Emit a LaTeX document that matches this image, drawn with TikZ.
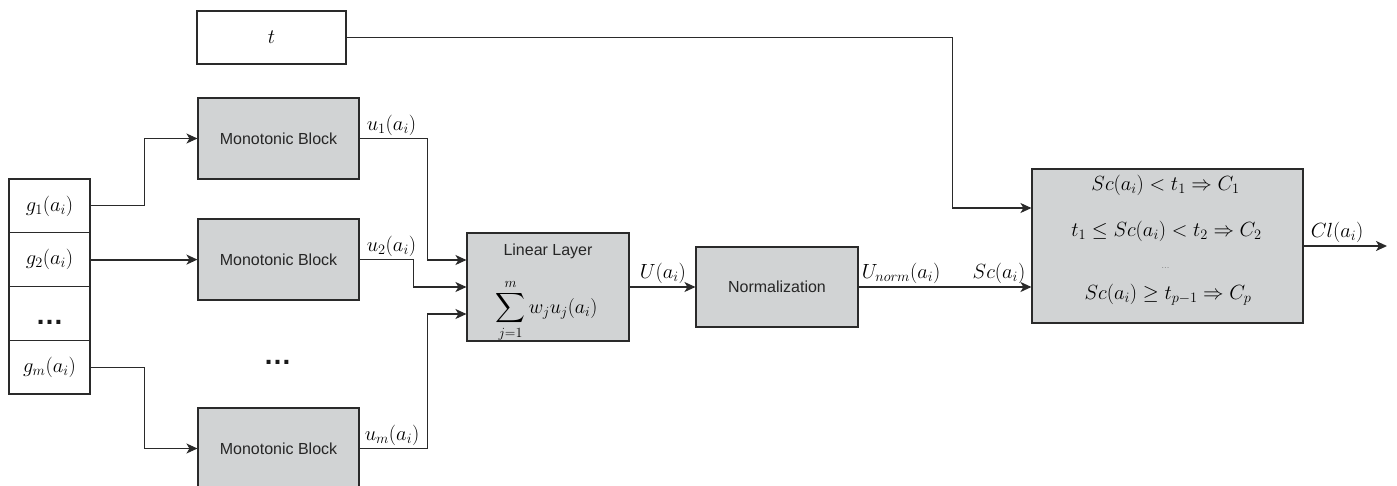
\RequirePackage{fix-cm}
\documentclass[tikz,border=0pt]{standalone}
\usepackage{exscale}
\usepackage{fontspec}
\setsansfont{Liberation Sans}
\usetikzlibrary{arrows.meta}
\definecolor{boxfill}{HTML}{D1D3D4}
\definecolor{linec}{HTML}{2A2A2A}
\begin{document}
\begin{tikzpicture}[x=1pt,y=-1pt,
  box/.style={draw=linec, line width=1.1pt, fill=boxfill, minimum width=161pt, minimum height=81pt, inner sep=0pt, font=\sffamily\fontsize{16}{19}\selectfont, text=black!85},
  wbox/.style={draw=linec, line width=1.1pt, fill=white, inner sep=0pt, font=\fontsize{20.5}{24}\selectfont},
  lbl/.style={inner sep=3pt, font=\fontsize{20.5}{24}\selectfont},
  sdot/.style={inner sep=0pt, font=\sffamily\bfseries\fontsize{28}{28}\selectfont, text=black!90},
  sans/.style={inner sep=0pt, font=\sffamily\fontsize{16}{19}\selectfont, text=black!85},
  conn/.style={draw=linec, line width=1.1pt, -{Stealth[length=11pt,width=10pt,inset=3pt]}},
  thk/.style={line width=1.8pt}]
\useasboundingbox (0,0) rectangle (1397,485);

% top threshold input
\node[wbox, minimum width=149pt, minimum height=53pt] (t) at (271.5,37.5) {$t$};

% input stack
\node[wbox, minimum width=81pt, minimum height=53.75pt] (g1) at (49.5,205.9) {$g_1(a_i)$};
\node[wbox, minimum width=81pt, minimum height=53.75pt] (g2) at (49.5,259.6) {$g_2(a_i)$};
\node[wbox, minimum width=81pt, minimum height=53.75pt] (gd) at (49.5,313.4) {};
\node[wbox, minimum width=81pt, minimum height=53.75pt] (gm) at (49.5,367.1) {$g_m(a_i)$};
\node[sdot] (sdots) at (49.5,322) {…};

% monotonic blocks
\node[box] (mb1) at (278.5,138.5) {Monotonic Block};
\node[box] (mb2) at (278.5,259.5) {Monotonic Block};
\node[box] (mb3) at (278.5,448.5) {Monotonic Block};
\node[sdot] (mdots) at (277.5,362) {…};

% linear layer
\node[box, minimum width=162pt, minimum height=108pt] (lin) at (548,287) {};
\node[sans] (lintitle) at (548,251) {Linear Layer};
\node[inner sep=0pt, font=\fontsize{20}{24}\selectfont] (linsum) at (546.5,311) {$\displaystyle\sum_{j=1}^{m} w_j u_j(a_i)$};

% normalization
\node[box, minimum width=162pt, minimum height=80pt] (norm) at (777,287) {Normalization};

% classification
\node[box, minimum width=271pt, minimum height=154pt] (cls) at (1167.5,246) {};
\node[lbl] (r1) at (1165.5,185) {$Sc(a_i) < t_1 \Rightarrow C_1$};
\node[lbl] (r2) at (1166.5,231) {$t_1 \leq Sc(a_i) < t_2 \Rightarrow C_2$};
\node[inner sep=0pt, font=\fontsize{9}{9}\selectfont, text=black!70] (r3) at (1165.5,268) {...};
\node[lbl] (r4) at (1168,295) {$Sc(a_i) \geq t_{p-1} \Rightarrow C_p$};

% connectors
\draw[conn] (g1.east) -- ++(54,0) |- (mb1.west);
\draw[conn, thk] (g2.east) -- (g2.east -| mb2.west);
\draw[conn] (gm.east) -- ++(54,0) |- (mb3.west);
\draw[conn] (mb1.east) -- ++(68,0) |- ([yshift=27pt]lin.west);
\draw[conn] (mb2.east) -- ++(54,0) |- (lin.west);
\draw[conn] (mb3.east) -- ++(68,0) |- ([yshift=-27pt]lin.west);
\draw[conn] (lin.east) -- (norm.west);
\coordinate (scin) at (norm.east -| cls.west);
\draw[conn, thk] (norm.east) -- (scin);
\draw[conn] (t.east) -- ++(606,0) |- ([yshift=38pt]cls.west);
\coordinate (out) at (1387,246);
\draw[conn, thk] (cls.east) -- (out);

% labels
\node[lbl, anchor=south west] (lu1) at ([xshift=4pt]mb1.east) {$u_1(a_i)$};
\node[lbl, anchor=south west] (lu2) at ([xshift=4pt]mb2.east) {$u_2(a_i)$};
\node[lbl, anchor=south west] (lum) at ([xshift=2pt]mb3.east) {$u_m(a_i)$};
\node[lbl, anchor=south west] (lU) at ([xshift=7pt]lin.east) {$U(a_i)$};
\node[lbl, anchor=south west] (lUn) at (norm.east) {$U_{norm}(a_i)$};
\node[lbl, anchor=south east] (lSc) at ([xshift=-3pt]scin) {$Sc(a_i)$};
\node[lbl, anchor=south west] (lCl) at ([xshift=4pt]cls.east) {$Cl(a_i)$};
\end{tikzpicture}
\end{document}
